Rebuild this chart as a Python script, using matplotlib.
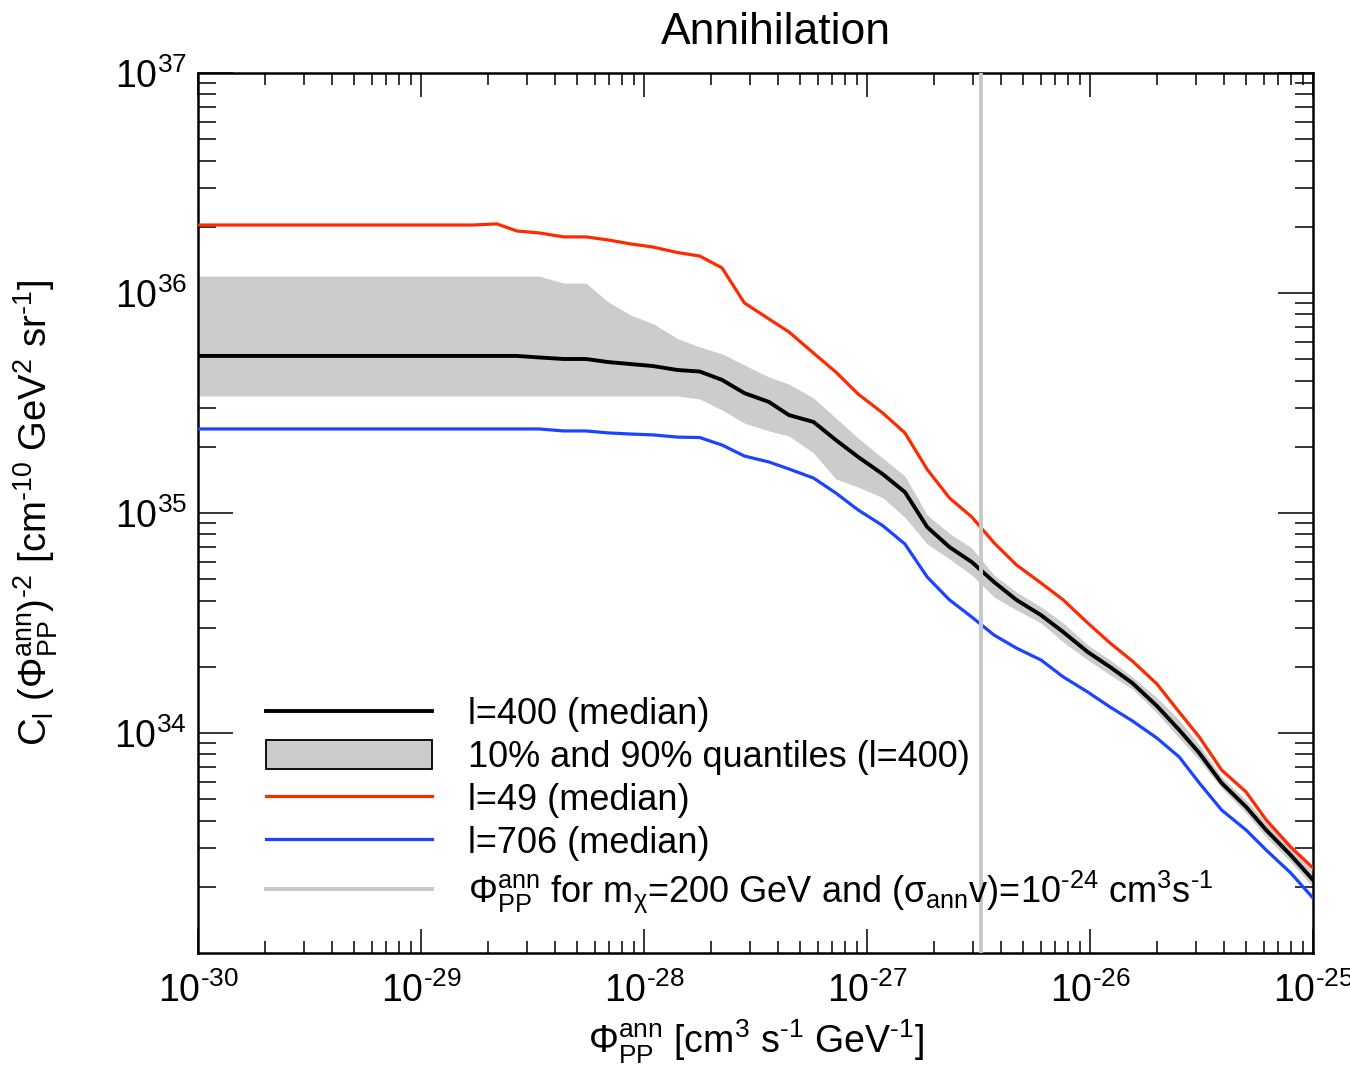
import numpy as np
import matplotlib
matplotlib.use("Agg")
import matplotlib.pyplot as plt
from matplotlib.patches import Patch
from matplotlib.lines import Line2D

plt.rcParams['font.family'] = ['Liberation Sans', 'DejaVu Sans']
plt.rcParams['mathtext.fontset'] = 'custom'
plt.rcParams['mathtext.rm'] = 'Liberation Sans'
plt.rcParams['mathtext.it'] = 'Liberation Sans'
plt.rcParams['mathtext.bf'] = 'Liberation Sans:bold'
plt.rcParams['axes.unicode_minus'] = False

HY = '\u2010'  # short hyphen for the exponents, like the original

# log10 of Phi_PP^ann [cm^3 s^-1 GeV^-1]
log_phi = np.array([
    -30.0, -28.77, -28.66, -28.57, -28.47, -28.36, -28.26, -28.16, -28.06, -27.96,
    -27.85, -27.75, -27.65, -27.55, -27.44, -27.35, -27.24, -27.14, -27.04, -26.93,
    -26.83, -26.73, -26.63, -26.53, -26.43, -26.33, -26.22, -26.12, -26.01, -25.91,
    -25.81, -25.70, -25.60, -25.51, -25.41, -25.30, -25.21, -25.10, -25.00])

# log10 of C_l (Phi)^-2, l=400 median
log_l400 = np.array([
    35.714, 35.714, 35.714, 35.714, 35.707, 35.700, 35.700, 35.686, 35.677, 35.668,
    35.650, 35.643, 35.605, 35.545, 35.505, 35.445, 35.414, 35.332, 35.255, 35.177,
    35.095, 34.936, 34.845, 34.777, 34.686, 34.605, 34.536, 34.459, 34.368, 34.300,
    34.227, 34.123, 34.014, 33.909, 33.773, 33.664, 33.559, 33.445, 33.332])

# l=400 90% quantile
log_q90 = np.array([
    36.077, 36.077, 36.077, 36.077, 36.077, 36.045, 36.045, 35.959, 35.900, 35.861,
    35.793, 35.755, 35.723, 35.673, 35.618, 35.586, 35.523, 35.432, 35.341, 35.250,
    35.168, 34.991, 34.907, 34.841, 34.718, 34.641, 34.573, 34.500, 34.400, 34.332,
    34.255, 34.161, 34.059, 33.945, 33.800, 33.695, 33.591, 33.482, 33.368])

# l=400 10% quantile
log_q10 = np.array([
    35.532, 35.532, 35.532, 35.532, 35.532, 35.532, 35.532, 35.532, 35.532, 35.532,
    35.532, 35.518, 35.468, 35.409, 35.373, 35.350, 35.273, 35.155, 35.118, 35.070,
    34.980, 34.859, 34.791, 34.718, 34.618, 34.559, 34.500, 34.414, 34.332, 34.264,
    34.200, 34.091, 33.977, 33.877, 33.750, 33.636, 33.527, 33.414, 33.300])

# l=49 median
log_l49 = np.array([
    36.309, 36.309, 36.314, 36.282, 36.273, 36.255, 36.255, 36.241, 36.223, 36.209,
    36.184, 36.168, 36.114, 35.955, 35.882, 35.823, 35.727, 35.641, 35.541, 35.455,
    35.364, 35.198, 35.068, 34.982, 34.864, 34.764, 34.682, 34.605, 34.500, 34.409,
    34.327, 34.223, 34.095, 33.982, 33.832, 33.732, 33.605, 33.482, 33.386])

# l=706 median
log_l706 = np.array([
    35.382, 35.382, 35.382, 35.382, 35.382, 35.373, 35.373, 35.364, 35.359, 35.355,
    35.345, 35.343, 35.309, 35.259, 35.232, 35.200, 35.159, 35.091, 35.014, 34.943,
    34.859, 34.709, 34.605, 34.527, 34.445, 34.386, 34.332, 34.255, 34.186, 34.118,
    34.055, 33.977, 33.891, 33.773, 33.650, 33.559, 33.468, 33.364, 33.250])

# Phi_PP for m_chi = 200 GeV, <sigma v> = 1e-24
phi_ref = 3.25e-27

labels = ["l=400 (median)",
          "10% and 90% quantiles (l=400)",
          "l=49 (median)",
          "l=706 (median)",
          r"$\Phi^{\rm ann}_{\rm PP}$ for m$_{\chi}$=200 GeV and ($\sigma_{\rm ann}$v)=10$^{" + HY + r"24}$ cm$^3$s$^{" + HY + r"1}$"]

c_red = '#ff2a00'
c_blue = '#1a44ff'
c_band = '#cccccc'
c_ref = '#c8c8c8'

x = 10.0 ** log_phi

fig = plt.figure(figsize=(13.5, 10.67), dpi=100)
ax = fig.add_axes([198/1350, 1 - 953/1067, 1115/1350, 880/1067])

ax.fill_between(x, 10.0 ** log_q10, 10.0 ** log_q90, color=c_band, lw=0, zorder=1)
ax.plot(x, 10.0 ** log_l49, color=c_red, lw=2.3, zorder=3)
ax.plot(x, 10.0 ** log_l706, color=c_blue, lw=2.3, zorder=3)
ax.plot(x, 10.0 ** log_l400, color='black', lw=2.8, zorder=4)
ax.axvline(phi_ref, color=c_ref, lw=2.8, zorder=5)

ax.set_xscale('log')
ax.set_yscale('log')
ax.set_xlim(1e-30, 1e-25)
ax.set_ylim(1e33, 1e37)
ax.set_axisbelow(True)


def exp_fmt(v, pos):
    e = int(round(np.log10(v)))
    return "10$^{%s}$" % str(e).replace('-', HY)


ax.set_xticks([1e-30, 1e-29, 1e-28, 1e-27, 1e-26, 1e-25])
ax.set_yticks([1e34, 1e35, 1e36, 1e37])
ax.xaxis.set_major_formatter(matplotlib.ticker.FuncFormatter(exp_fmt))
ax.yaxis.set_major_formatter(matplotlib.ticker.FuncFormatter(exp_fmt))
ax.xaxis.set_minor_locator(matplotlib.ticker.LogLocator(base=10, subs=np.arange(2, 10), numticks=20))
ax.yaxis.set_minor_locator(matplotlib.ticker.LogLocator(base=10, subs=np.arange(2, 10), numticks=20))
ax.xaxis.set_minor_formatter(matplotlib.ticker.NullFormatter())
ax.yaxis.set_minor_formatter(matplotlib.ticker.NullFormatter())

ax.tick_params(which='both', direction='in', top=True, right=True, width=1.1, labelsize=27)
ax.tick_params(axis='x', which='major', length=17, pad=14)
ax.tick_params(axis='x', which='minor', length=8.5)
ax.tick_params(axis='y', which='major', length=25, pad=8)
ax.tick_params(axis='y', which='minor', length=13)
for s in ax.spines.values():
    s.set_linewidth(1.8)

ax.set_xlabel(r"$\Phi^{\rm ann}_{\rm PP}$ [cm$^3$ s$^{" + HY + r"1}$ GeV$^{" + HY + r"1}$]", fontsize=27)
ax.xaxis.set_label_coords(0.5, -0.074)
ax.set_ylabel(r"C$_{\rm l}$ ($\Phi^{\rm ann}_{\rm PP}$)$^{" + HY + r"2}$ [cm$^{" + HY + r"10}$ GeV$^2$ sr$^{" + HY + r"1}$]",
              fontsize=27.5)
ax.yaxis.set_label_coords(-0.124, 0.5)

fig.text(776/1350, 1 - 32/1067, "Annihilation", fontsize=32, ha='center', va='center')

handles = [Line2D([], [], color='black', lw=2.8),
           Patch(facecolor=c_band, edgecolor='black', lw=1.3),
           Line2D([], [], color=c_red, lw=2.3),
           Line2D([], [], color=c_blue, lw=2.3),
           Line2D([], [], color=c_ref, lw=2.8)]
ax.legend(handles, labels, loc='upper left', bbox_to_anchor=(266/1350, 1 - 697/1067),
          bbox_transform=fig.transFigure, frameon=False, fontsize=26,
          handlelength=4.6, handleheight=0.85, handletextpad=1.0,
          labelspacing=0.22, borderpad=0, borderaxespad=0)

fig.savefig("out.png", dpi=100)
